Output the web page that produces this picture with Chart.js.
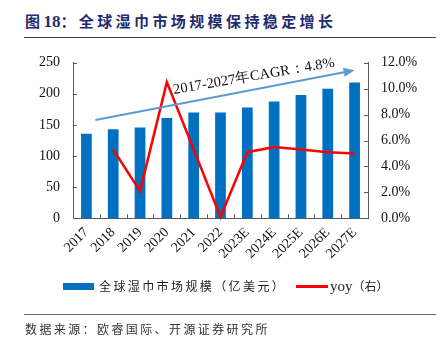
<!DOCTYPE html>
<html>
<head>
<meta charset="utf-8">
<script src="https://cdn.jsdelivr.net/npm/chart.js@4"></script>
<style>
body{margin:0;background:#fff;width:444px;height:349px;position:relative;overflow:hidden;font-family:"Noto Sans CJK SC",sans-serif;}
.abs{position:absolute;white-space:nowrap;}
#title{left:25px;top:10px;line-height:21px;font-size:15px;font-weight:bold;color:#1F2C72;letter-spacing:3.4px;}
#title .num{font-family:"Liberation Serif",serif;font-size:17px;letter-spacing:0;}
.rule{position:absolute;left:24px;width:412px;height:1.5px;background:#404040;}
#wrap{position:absolute;left:0;top:40px;width:444px;height:240px;}
.leg{font-size:12px;color:#222;line-height:16px;}
#src{left:25px;top:321px;font-size:12px;line-height:16px;color:#333;letter-spacing:2.4px;}
</style>
</head>
<body>
<div id="title" class="abs">图<span class="num">18</span>：全球湿巾市场规模保持稳定增长</div>
<div class="rule" style="top:36.5px"></div>
<div id="wrap"><canvas id="c"></canvas></div>
<div class="abs" style="left:63px;top:283px;width:31px;height:6.5px;background:#0070C0"></div>
<div class="abs leg" style="left:99px;top:278px;letter-spacing:2.4px">全球湿巾市场规模（亿美元）</div>
<div class="abs" style="left:296px;top:285px;width:32px;height:2.5px;background:#FF0000"></div>
<div class="abs leg" style="left:330px;top:278px"><span style="font-family:'Liberation Serif',serif;font-size:15px">yoy</span>（右）</div>
<div class="rule" style="top:313.5px;background:#666"></div>
<div id="src" class="abs">数据来源：欧睿国际、开源证券研究所</div>
<script>
const years=['2017','2018','2019','2020','2021','2022','2023E','2024E','2025E','2026E','2027E'];
const marketSize=[136,143,146,161,170,170,178,187.5,198,208,218];
const yoy=[null,5.3,2.1,10.5,5.3,0.1,5.1,5.5,5.3,5.1,5.0];
const leftTicks=[0,50,100,150,200,250];
const rightTicks=[0,2,4,6,8,10,12];
const cagrText='2017-2027年CAGR：4.8%';
const cagrFrom=158,cagrTo=238; // arrow ends, in left-axis units

const serif="'Liberation Serif','Times New Roman',serif";
const axisColor='#595959';

// inward tick marks + CAGR arrow
const decor={
  id:'decor',
  afterDraw(chart){
    const {ctx,chartArea:a,scales:{x,y,y1}}=chart;
    ctx.save();
    ctx.strokeStyle=axisColor;ctx.lineWidth=1;
    ctx.beginPath();
    leftTicks.forEach(v=>{const p=Math.round(y.getPixelForValue(v))+0.5;ctx.moveTo(a.left,p);ctx.lineTo(a.left+4,p);});
    rightTicks.forEach(v=>{const p=Math.round(y1.getPixelForValue(v))+0.5;ctx.moveTo(a.right,p);ctx.lineTo(a.right-4,p);});
    const w=(a.right-a.left)/years.length;
    for(let i=1;i<years.length;i++){const p=Math.round(a.left+i*w)+0.5;ctx.moveTo(p,a.bottom);ctx.lineTo(p,a.bottom-4);}
    ctx.stroke();
    // arrow
    const x0=x.getPixelForValue(0)+9,y0=y.getPixelForValue(cagrFrom);
    const x1=x.getPixelForValue(years.length-1),y1p=y.getPixelForValue(cagrTo);
    const ang=Math.atan2(y1p-y0,x1-x0);
    ctx.strokeStyle='#5B9BD5';ctx.fillStyle='#5B9BD5';ctx.lineWidth=2;
    ctx.beginPath();ctx.moveTo(x0,y0);ctx.lineTo(x1-8*Math.cos(ang),y1p-8*Math.sin(ang));ctx.stroke();
    ctx.beginPath();
    ctx.moveTo(x1,y1p);
    ctx.lineTo(x1-11*Math.cos(ang)+4.5*Math.sin(ang),y1p-11*Math.sin(ang)-4.5*Math.cos(ang));
    ctx.lineTo(x1-11*Math.cos(ang)-4.5*Math.sin(ang),y1p-11*Math.sin(ang)+4.5*Math.cos(ang));
    ctx.closePath();ctx.fill();
    // label, centred at ~62% along the arrow
    const t=0.62;
    const mx=x0+(x1-x0)*t,my=y0+(y1p-y0)*t;
    ctx.translate(mx,my);ctx.rotate(ang+0.02);
    ctx.fillStyle='#111';ctx.font="14.5px "+serif;ctx.textAlign='center';ctx.textBaseline='alphabetic';
    ctx.fillText(cagrText,0,-9);
    ctx.restore();
  }
};

new Chart(document.getElementById('c'),{
  data:{
    labels:years,
    datasets:[
      {type:'line',label:'yoy（右）',data:yoy,yAxisID:'y1',borderColor:'#FF0000',borderWidth:2.5,pointRadius:0,tension:0,clip:false,order:0},
      {type:'bar',label:'全球湿巾市场规模（亿美元）',data:marketSize,yAxisID:'y',backgroundColor:'#0070C0',barPercentage:0.4,categoryPercentage:1,order:1}
    ]
  },
  plugins:[decor],
  options:{
    responsive:true,maintainAspectRatio:false,animation:false,
    layout:{padding:{top:22.7,left:0,right:0,bottom:0}},
    plugins:{legend:{display:false},tooltip:{enabled:false}},
    scales:{
      x:{
        grid:{display:false,drawTicks:false},
        border:{color:axisColor,width:1},
        ticks:{color:'#111',font:{family:serif,size:14},minRotation:45,maxRotation:45,padding:6,autoSkip:false},
        afterFit(s){s.height=61.7;}
      },
      y:{
        position:'left',min:0,max:250,
        grid:{display:false,drawTicks:false},
        border:{color:axisColor,width:1},
        ticks:{stepSize:50,color:'#111',font:{family:serif,size:14},padding:13},
        afterFit(s){s.width=73;}
      },
      y1:{
        position:'right',min:0,max:12,
        grid:{display:false,drawTicks:false},
        border:{color:axisColor,width:1},
        ticks:{stepSize:2,color:'#111',font:{family:serif,size:14},padding:13,callback:v=>v.toFixed(1)+'%'},
        afterFit(s){s.width=76;}
      }
    }
  }
});
</script>
</body>
</html>
